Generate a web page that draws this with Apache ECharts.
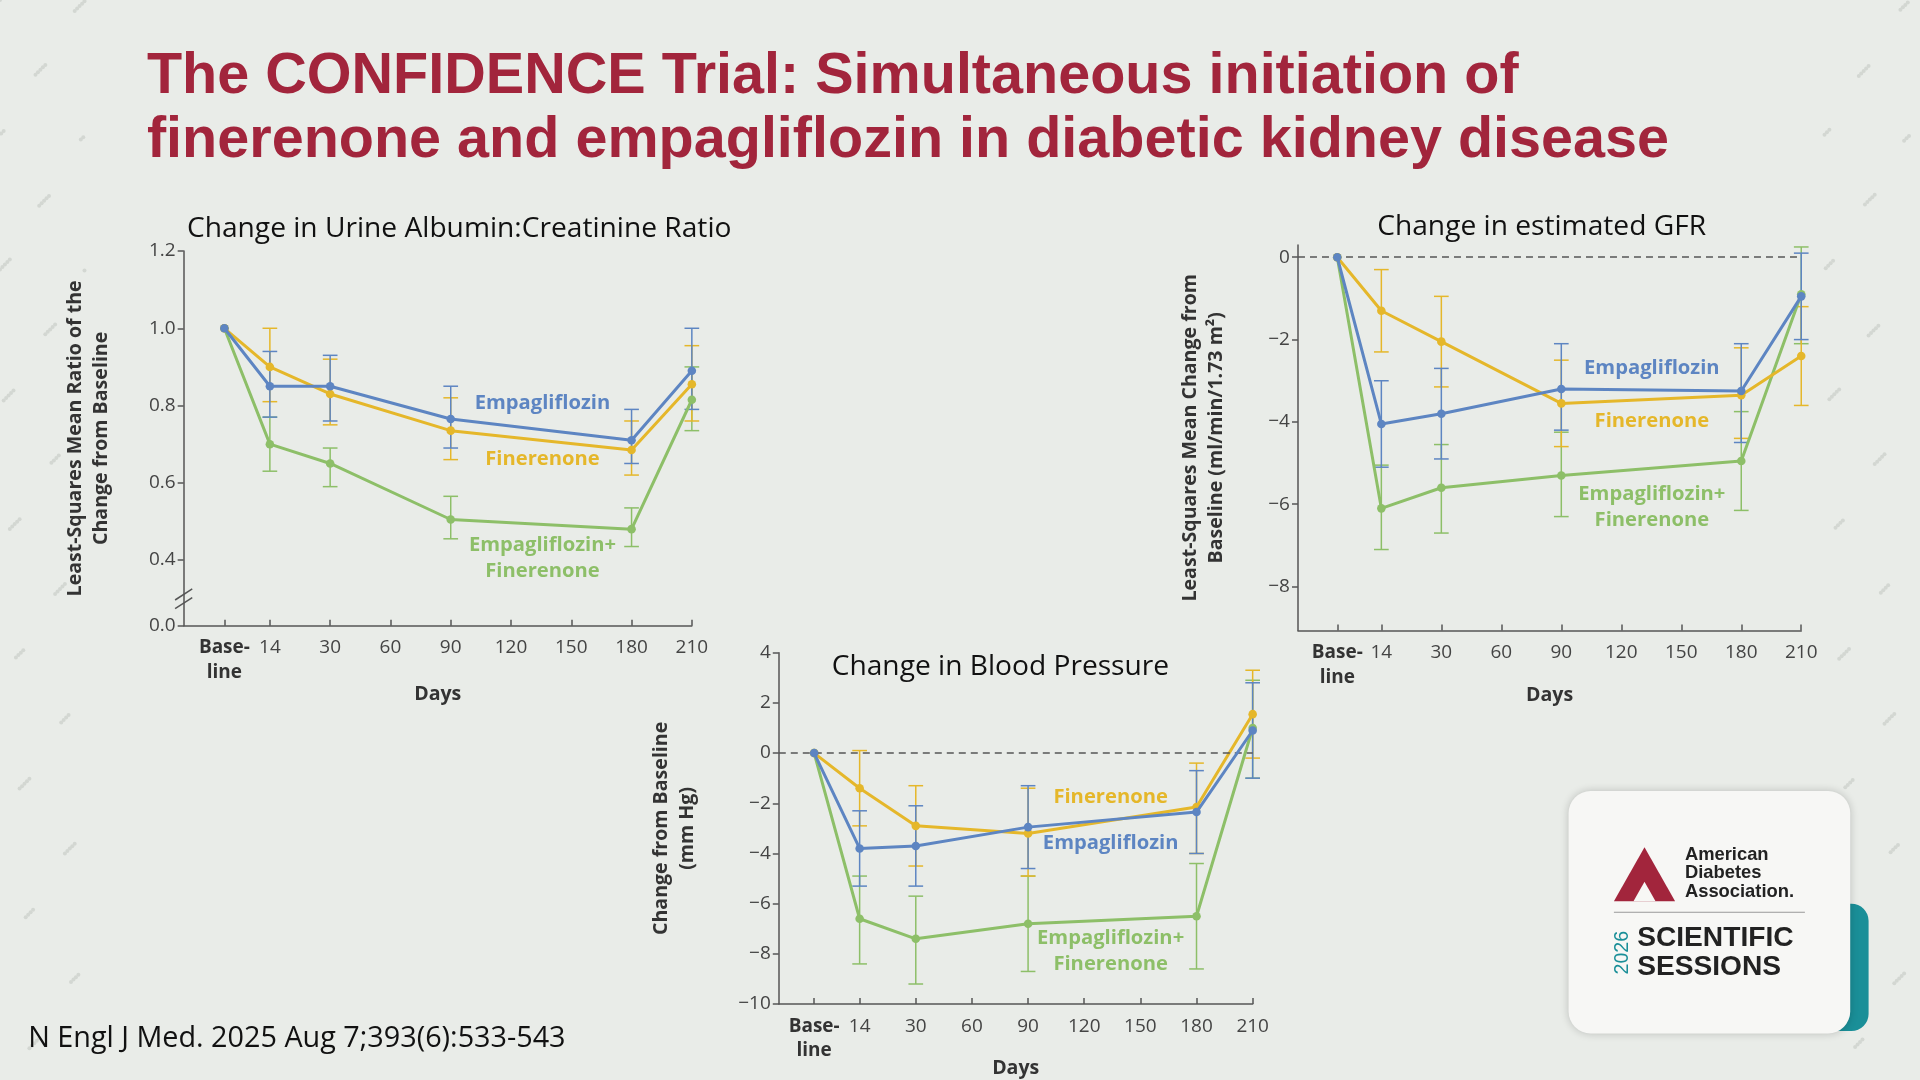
<!DOCTYPE html>
<html><head><meta charset="utf-8">
<script src="https://cdn.jsdelivr.net/npm/echarts@6/dist/echarts.min.js"></script>
<style>html,body{margin:0;padding:0;background:#e9ece8}#c{width:1920px;height:1080px}</style>
</head><body><div id="c"></div>
<script>
// ---- data ----
const days = ['Base-line', 14, 30, 90, 180, 210];
const tickLabels = ['Base-\nline', '14', '30', '60', '90', '120', '150', '180', '210'];
const tickDays = [14, 30, 60, 90, 120, 150, 180, 210];

const uacrEmp = [1.0, 0.85, 0.85, 0.765, 0.71, 0.89];
const uacrEmpLo = [1.0, 0.77, 0.76, 0.69, 0.65, 0.79];
const uacrEmpHi = [1.0, 0.94, 0.93, 0.85, 0.79, 1.0];
const uacrFin = [1.0, 0.90, 0.83, 0.735, 0.685, 0.855];
const uacrFinLo = [1.0, 0.81, 0.75, 0.66, 0.62, 0.76];
const uacrFinHi = [1.0, 1.0, 0.92, 0.82, 0.76, 0.955];
const uacrCom = [1.0, 0.70, 0.65, 0.505, 0.48, 0.815];
const uacrComLo = [1.0, 0.63, 0.59, 0.455, 0.435, 0.735];
const uacrComHi = [1.0, 0.77, 0.69, 0.565, 0.535, 0.90];
const uacrTicks = [0.4, 0.6, 0.8, 1.0, 1.2];

const gfrEmp = [0, -4.05, -3.8, -3.2, -3.25, -0.95];
const gfrEmpLo = [0, -5.1, -4.9, -4.2, -4.5, -2.0];
const gfrEmpHi = [0, -3.0, -2.7, -2.1, -2.1, 0.1];
const gfrFin = [0, -1.3, -2.05, -3.55, -3.35, -2.4];
const gfrFinLo = [0, -2.3, -3.15, -4.6, -4.4, -3.6];
const gfrFinHi = [0, -0.3, -0.95, -2.5, -2.2, -1.2];
const gfrCom = [0, -6.1, -5.6, -5.3, -4.95, -0.9];
const gfrComLo = [0, -7.1, -6.7, -6.3, -6.15, -2.1];
const gfrComHi = [0, -5.05, -4.55, -4.25, -3.75, 0.25];
const gfrTicks = [-8, -6, -4, -2, 0];

const bpEmp = [0, -3.8, -3.7, -2.95, -2.35, 0.9];
const bpEmpLo = [0, -5.3, -5.3, -4.6, -4.0, -1.0];
const bpEmpHi = [0, -2.3, -2.1, -1.3, -0.7, 2.8];
const bpFin = [0, -1.4, -2.9, -3.2, -2.15, 1.55];
const bpFinLo = [0, -2.9, -4.5, -4.9, -4.0, -0.2];
const bpFinHi = [0, 0.1, -1.3, -1.4, -0.4, 3.3];
const bpCom = [0, -6.6, -7.4, -6.8, -6.5, 1.0];
const bpComLo = [0, -8.4, -9.2, -8.7, -8.6, -1.0];
const bpComHi = [0, -4.9, -5.7, -4.9, -4.4, 2.9];

// ---- styling ----
const S = v => v * 1.2245;
const BLUE = '#5d85c2', YEL = '#e5b72a', GRN = '#8dbf68', AX = '#555';
const FONT = 'Open Sans';
const chart = echarts.init(document.getElementById('c'));

function xpos(basePos) {
  return days.map(d => d === 'Base-line' ? basePos : tickDays.indexOf(d) + 1);
}
function tickPos(basePos) { return [basePos].concat(tickDays.map((d, i) => i + 1)); }

const grids = [], xAxes = [], yAxes = [], series = [];
function addChart(cfg) {
  const gi = grids.length;
  grids.push({ left: S(cfg.l), top: S(cfg.t), width: S(cfg.r - cfg.l), height: S(cfg.b - cfg.t), containLabel: false, outerBoundsMode: 'none' });
  const tp = tickPos(cfg.base);
  xAxes.push({
    gridIndex: gi, type: 'value', min: cfg.xmin, max: 8,
    name: 'Days', nameLocation: 'middle', nameGap: S(cfg.nameGapX), nameMoveOverlap: false,
    nameTextStyle: { fontFamily: FONT, fontWeight: 'bold', fontSize: S(16), color: '#333' },
    axisLine: { onZero: false, lineStyle: { color: AX, width: 1.5 } },
    splitLine: { show: false },
    axisTick: { inside: true, length: 6, customValues: tp, lineStyle: { color: AX, width: 1.5 } },
    axisLabel: {
      customValues: tp, margin: 10, fontFamily: FONT, fontSize: S(15.5), color: '#444', lineHeight: S(20),
      formatter: v => { const i = tp.findIndex(p => Math.abs(p - v) < 1e-6); return i === 0 ? '{b|Base-}\n{b|line}' : tickLabels[i]; },
      rich: { b: { fontFamily: FONT, fontWeight: 'bold', fontSize: S(15.5), color: '#333', lineHeight: S(20) } }
    }
  });
  yAxes.push({
    gridIndex: gi, type: 'value', min: cfg.ymin, max: cfg.ymax,
    name: cfg.yname, nameLocation: 'middle', nameGap: S(cfg.nameGapY), nameRotate: 90, nameMoveOverlap: false,
    nameTextStyle: { fontFamily: FONT, fontWeight: 'bold', fontSize: S(16), color: '#333', lineHeight: S(21) },
    axisLine: { show: true, onZero: false, lineStyle: { color: AX, width: 1.5 } },
    splitLine: { show: false },
    axisTick: { length: 6, customValues: cfg.yticks, lineStyle: { color: AX, width: 1.5 } },
    axisLabel: { customValues: cfg.yticks, fontFamily: FONT, fontSize: S(15.5), color: '#444', margin: 8,
      formatter: cfg.yfmt }
  });
  const xs = xpos(cfg.base);
  cfg.sets.forEach((s, k) => {
    series.push({
      type: 'custom', xAxisIndex: gi, yAxisIndex: gi, silent: true, z: 2,
      data: xs.map((x, i) => [x, s.lo[i], s.hi[i]]).slice(1),
      renderItem: (params, api) => {
        const top = api.coord([api.value(0), api.value(2)]);
        const bot = api.coord([api.value(0), api.value(1)]);
        const w = S(6);
        const st = { stroke: s.c, lineWidth: 1.5 };
        return { type: 'group', children: [
          { type: 'line', shape: { x1: top[0], y1: top[1], x2: bot[0], y2: bot[1] }, style: st },
          { type: 'line', shape: { x1: top[0] - w, y1: top[1], x2: top[0] + w, y2: top[1] }, style: st },
          { type: 'line', shape: { x1: bot[0] - w, y1: bot[1], x2: bot[0] + w, y2: bot[1] }, style: st }
        ] };
      }
    });
    const line = {
      type: 'line', xAxisIndex: gi, yAxisIndex: gi, z: 3 + k,
      data: xs.map((x, i) => [x, s.v[i]]),
      symbol: 'circle', symbolSize: S(7), lineStyle: { color: s.c, width: 3 }, itemStyle: { color: s.c },
      animation: false
    };
    if (k === 0 && cfg.zeroLine) {
      line.markLine = { silent: true, symbol: 'none', label: { show: false },
        lineStyle: { color: '#555', type: [7, 5], width: 1.5 }, data: [{ yAxis: 0 }] };
    }
    series.push(line);
  });
}

addChart({ l: 150, t: 205, r: 565, b: 511, xmin: -0.43, base: 0.245, ymin: 0.23, ymax: 1.2,
  yticks: [0.23].concat(uacrTicks), yfmt: v => v < 0.3 ? '0.0' : v.toFixed(1),
  yname: 'Least-Squares Mean Ratio of the\nChange from Baseline', nameGapX: 48, nameGapY: 57,
  sets: [{ v: uacrCom, lo: uacrComLo, hi: uacrComHi, c: GRN }, { v: uacrFin, lo: uacrFinLo, hi: uacrFinHi, c: YEL }, { v: uacrEmp, lo: uacrEmpLo, hi: uacrEmpHi, c: BLUE }] });
addChart({ l: 1060, t: 200, r: 1471, b: 515, xmin: -0.39, base: 0.265, ymin: -9.07, ymax: 0.3,
  yticks: gfrTicks, yfmt: v => v < 0 ? '\u2212' + Math.abs(v) : String(v), zeroLine: true,
  yname: 'Least-Squares Mean Change from\nBaseline (ml/min/1.73 m\u00b2)', nameGapX: 45, nameGapY: 56,
  sets: [{ v: gfrCom, lo: gfrComLo, hi: gfrComHi, c: GRN }, { v: gfrFin, lo: gfrFinLo, hi: gfrFinHi, c: YEL }, { v: gfrEmp, lo: gfrEmpLo, hi: gfrEmpHi, c: BLUE }] });
addChart({ l: 636, t: 533, r: 1023, b: 820, xmin: -0.44, base: 0.19, ymin: -10, ymax: 4,
  yticks: [-10, -8, -6, -4, -2, 0, 2, 4], yfmt: v => v < 0 ? '\u2212' + Math.abs(v) : String(v), zeroLine: true,
  yname: 'Change from Baseline\n(mm Hg)', nameGapX: 44, nameGapY: 64,
  sets: [{ v: bpCom, lo: bpComLo, hi: bpComHi, c: GRN }, { v: bpFin, lo: bpFinLo, hi: bpFinHi, c: YEL }, { v: bpEmp, lo: bpEmpLo, hi: bpEmpHi, c: BLUE }] });

function txt(x, y, t, o) {
  return Object.assign({ type: 'text', x: S(x), y: S(y), style: Object.assign({ text: t, fontFamily: FONT, fontSize: S(16.5), fontWeight: 'bold', textAlign: 'center', textVerticalAlign: 'middle', lineHeight: S(21) }, o || {}) });
}
const dots = [];
for (let i = 0; i < 160; i++) {
  const gx = (i * 37) % 140, gy = (i * 53) % 900;
  dots.push({ type: 'circle', shape: { cx: S(gx < 70 ? gx : 1490 + gx - 70), cy: S(gy), r: 2 }, style: { fill: '#d3d7d2' }, silent: true });
}
const graphic = dots.concat([
  { type: 'text', x: S(120), y: S(63), style: { text: 'The CONFIDENCE Trial: Simultaneous initiation of', fontFamily: 'Liberation Sans', fontWeight: 'bold', fontSize: S(47), fill: '#a2253c', textVerticalAlign: 'middle' } },
  { type: 'text', x: S(120), y: S(115), style: { text: 'finerenone and empagliflozin in diabetic kidney disease', fontFamily: 'Liberation Sans', fontWeight: 'bold', fontSize: S(47), fill: '#a2253c', textVerticalAlign: 'middle' } },
  txt(375, 187, 'Change in Urine Albumin:Creatinine Ratio', { fontWeight: 'normal', fontSize: S(23), fill: '#111' }),
  txt(1259, 185, 'Change in estimated GFR', { fontWeight: 'normal', fontSize: S(23), fill: '#111' }),
  txt(817, 545, 'Change in Blood Pressure', { fontWeight: 'normal', fontSize: S(23), fill: '#111' }),
  txt(443, 329, 'Empagliflozin', { fill: BLUE }),
  txt(443, 375, 'Finerenone', { fill: YEL }),
  txt(443, 456, 'Empagliflozin+\nFinerenone', { fill: GRN }),
  txt(1349, 301, 'Empagliflozin', { fill: BLUE }),
  txt(1349, 344, 'Finerenone', { fill: YEL }),
  txt(1349, 414, 'Empagliflozin+\nFinerenone', { fill: GRN }),
  txt(907, 651, 'Finerenone', { fill: YEL }),
  txt(907, 689, 'Empagliflozin', { fill: BLUE }),
  txt(907, 777, 'Empagliflozin+\nFinerenone', { fill: GRN }),
  { type: 'text', x: S(23), y: S(848), style: { text: 'N Engl J Med. 2025 Aug 7;393(6):533-543', fontFamily: FONT, fontSize: S(23.5), fill: '#111', textVerticalAlign: 'middle' } },
  // axis break
  { type: 'rect', shape: { x: S(143), y: S(483), width: S(14), height: S(12) }, style: { fill: '#e9ece8' } },
  { type: 'line', shape: { x1: S(143), y1: S(490), x2: S(157), y2: S(481) }, style: { stroke: AX, lineWidth: 1.5 } },
  { type: 'line', shape: { x1: S(143), y1: S(497), x2: S(157), y2: S(488) }, style: { stroke: AX, lineWidth: 1.5 } },
  // ADA badge
  { type: 'rect', shape: { x: S(1300), y: S(738), width: S(226), height: S(104), r: S(14) }, style: { fill: '#1a8f98' } },
  { type: 'rect', shape: { x: S(1281), y: S(646), width: S(230), height: S(198), r: S(18) }, style: { fill: '#f7f7f5', shadowBlur: 8, shadowColor: 'rgba(0,0,0,0.2)' } },
  { type: 'polygon', shape: { points: [[S(1318), S(736)], [S(1343), S(692)], [S(1368), S(736)]] }, style: { fill: '#a2253c' } },
  { type: 'polygon', shape: { points: [[S(1334), S(736)], [S(1343), S(720)], [S(1352), S(736)]] }, style: { fill: '#f7f7f5' } },
  { type: 'text', x: S(1376), y: S(713), style: { text: 'American\nDiabetes\nAssociation.', fontFamily: 'Liberation Sans', fontWeight: 'bold', fontSize: S(15), lineHeight: S(15), fill: '#222', textVerticalAlign: 'middle' } },
  { type: 'line', shape: { x1: S(1318), y1: S(745), x2: S(1474), y2: S(745) }, style: { stroke: '#999', lineWidth: 1 } },
  { type: 'text', x: S(1325), y: S(778), rotation: Math.PI / 2, style: { text: '2026', fontFamily: 'Liberation Sans', fontSize: S(16), fill: '#1a8f98', textAlign: 'center', textVerticalAlign: 'middle' } },
  { type: 'text', x: S(1337), y: S(778), style: { text: 'SCIENTIFIC\nSESSIONS', fontFamily: 'Liberation Sans', fontWeight: 'bold', fontSize: S(23), lineHeight: S(24), fill: '#222', textVerticalAlign: 'middle' } }
]);

chart.setOption({ backgroundColor: '#e9ece8', animation: false, grid: grids, xAxis: xAxes, yAxis: yAxes, series: series, graphic: graphic });
</script></body></html>
